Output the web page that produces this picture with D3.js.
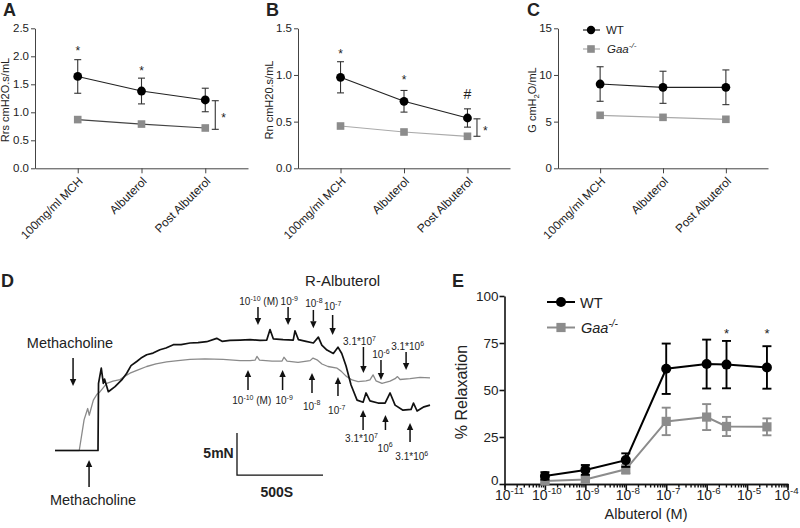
<!DOCTYPE html>
<html><head><meta charset="utf-8">
<script src="https://cdn.jsdelivr.net/npm/d3@7"></script>
<style>body{margin:0;background:#fff}svg{display:block}</style>
</head><body><svg id="chart" width="800" height="528"></svg>
<script>
// ---------------- DATA ----------------
const categories = ["100mg/ml MCH", "Albuterol", "Post Albuterol"];
const rrsWT = [1.64, 1.38, 1.22];
const rrsWTerr = [0.30, 0.23, 0.21];
const rrsGaa = [0.87, 0.79, 0.72];
const rrsTicks = [0, 0.5, 1.0, 1.5, 2.0, 2.5];

const rnWT = [0.975, 0.718, 0.539];
const rnWTerr = [0.167, 0.116, 0.098];
const rnGaa = [0.453, 0.389, 0.343];
const rnTicks = [0, 0.5, 1.0, 1.5];

const gWT = [9.03, 8.68, 8.68];
const gWTerr = [1.85, 1.72, 1.86];
const gGaa = [5.68, 5.46, 5.25];
const gTicks = [0, 5, 10, 15];

// Panel D traces (time in s, force in mN)
const wtTraceT = [0,250,253,269,281,288,310,349,388,417,442,475,500,533,570,610,645,688,733,785,831,882,940,971,1017,1076,1134,1192,1231,1250,1269,1326,1385,1395,1415,1459,1502,1531,1551,1581,1618,1645,1667,1692,1721,1756,1791,1808,1831,1878,1919,1948,1977,2023,2070,2084,2105,2145,2180];
const wtTraceF = [0,0,8.0,9.8,8.0,8.5,7.0,7.6,8.4,9.2,10.1,10.6,11.0,11.4,11.6,12.0,12.2,12.6,12.6,12.8,12.85,12.95,13.35,13.0,13.1,13.15,13.2,13.1,13.15,14.4,13.3,13.2,13.15,14.25,13.2,13.0,12.8,13.5,12.55,11.95,11.55,12.3,11.55,10.05,7.8,6.0,5.75,6.85,5.9,5.65,5.65,6.85,5.4,4.8,4.9,5.65,4.7,5.2,5.4];
const gaaTraceT = [0,141,169,190,199,223,244,262,301,337,378,407,436,483,533,587,649,715,785,872,977,1076,1134,1163,1174,1189,1262,1320,1331,1349,1413,1483,1500,1523,1552,1587,1640,1663,1692,1727,1762,1808,1831,1849,1866,1901,1948,1977,1991,2006,2064,2122,2180];
const gaaTraceF = [0,0,3.65,5.0,4.2,6.0,6.7,7.0,8.0,8.25,8.45,8.85,9.2,9.6,10.0,10.3,10.55,10.7,10.85,10.9,10.85,10.7,10.7,10.75,11.2,10.75,10.65,10.65,11.1,10.65,10.5,10.7,11.0,10.8,10.3,10.0,9.8,9.45,8.85,8.4,8.2,8.3,8.4,9.0,8.3,8.0,8.25,8.55,8.8,8.45,8.55,8.7,8.65];
const topDoseLabels = ["10^{-10} (M)", "10^{-9}", "10^{-8}", "10^{-7}", "3.1*10^{7}", "10^{-6}", "3.1*10^{6}"];
const bottomDoseLabels = ["10^{-10} (M)", "10^{-9}", "10^{-8}", "10^{-7}", "3.1*10^{7}", "10^{6}", "3.1*10^{6}"];

// Panel E
const doses = [1e-10, 1e-9, 1e-8, 1e-7, 1e-6, 3.1e-6, 3.1e-5];
const relaxWT = [4.3, 7.5, 12.7, 61.3, 63.8, 63.5, 62.0];
const relaxWTerr = [2.0, 2.6, 3.6, 13.4, 13.0, 12.6, 11.3];
const relaxGaa = [1.6, 2.4, 7.8, 33.3, 35.6, 30.6, 30.4];
const relaxGaaErr = [0.8, 1.6, 2.3, 7.3, 6.9, 5.1, 4.5];
const eYTicks = [0, 25, 50, 75, 100];
const eXTickLabels = ["10^{-11}","10^{-10}","10^{-9}","10^{-8}","10^{-7}","10^{-6}","10^{-5}","10^{-4}"];
const eXTickValues = [1e-11,1e-10,1e-9,1e-8,1e-7,1e-6,1e-5,1e-4];
const eStarDoses = [3.1e-6, 3.1e-5];

// ---------------- HELPERS ----------------
const FONT = "Arial, 'Liberation Sans', sans-serif";
const svg = d3.select("#chart");

function rich(sel, str, fs) {
  const parts = str.split(/(\^\{[^}]*\}|_\{[^}]*\})/).filter(s => s.length);
  let shift = 0;
  parts.forEach(p => {
    let type = 'n', s = p;
    if (p.startsWith('^{')) { type = 'sup'; s = p.slice(2, -1); }
    else if (p.startsWith('_{')) { type = 'sub'; s = p.slice(2, -1); }
    const target = type === 'sup' ? -0.42 * fs : type === 'sub' ? 0.3 * fs : 0;
    sel.append('tspan').attr('dy', target - shift).attr('font-size', type === 'n' ? fs : fs * 0.7).text(s);
    shift = target;
  });
  return sel;
}

function styleAxis(a, color, width, fs) {
  a.selectAll('path,line').attr('stroke', color).attr('stroke-width', width);
  a.selectAll('text').attr('font-size', fs).attr('font-family', FONT).attr('fill', '#222');
}

function panelLetter(x, y, t) {
  svg.append('text').attr('x', x).attr('y', y).attr('font-family', FONT)
    .attr('font-weight', 'bold').attr('font-size', 18).attr('fill', '#222').text(t);
}

// ---------------- PANELS A-C ----------------
function catPanel(o) {
  const x = d3.scalePoint().domain(categories).range([o.x0, o.x1]).padding(0.67);
  const y = d3.scaleLinear().domain([0, o.yMax]).range([168.3, 28.3]);
  const g = svg.append('g');
  const ya = g.append('g').attr('transform', `translate(${o.x0},0)`)
    .call(d3.axisLeft(y).tickValues(o.ticks).tickFormat(o.fmt).tickSize(4).tickSizeOuter(0).tickPadding(2));
  styleAxis(ya, '#444', 1, 11.5);
  const xa = g.append('g').attr('transform', 'translate(0,168.3)')
    .call(d3.axisBottom(x).tickSize(5).tickSizeOuter(0).tickFormat(''));
  styleAxis(xa, '#444', 1, 11.5);

  g.selectAll('.cl').data(categories).join('text')
    .attr('transform', d => `translate(${x(d) + 3},${179}) rotate(-45)`)
    .attr('text-anchor', 'end').attr('dy', '0.35em')
    .attr('font-family', FONT).attr('font-size', 11.8).attr('fill', '#222').text(d => d);

  const yt = g.append('text').attr('transform', `translate(${o.tx},100) rotate(-90)`)
    .attr('text-anchor', 'middle').attr('font-family', FONT).attr('fill', '#222');
  rich(yt, o.title, 11);

  const line = d3.line().x((d, i) => x(categories[i])).y(d => y(d));
  g.append('path').datum(o.gaa).attr('d', line).attr('fill', 'none').attr('stroke', o.gaaLine).attr('stroke-width', 1.2);
  g.append('path').datum(o.wt).attr('d', line).attr('fill', 'none').attr('stroke', '#222').attr('stroke-width', 1.2);

  const eb = g.selectAll('.eb').data(o.wt).join('g');
  eb.append('line').attr('x1', (d, i) => x(categories[i])).attr('x2', (d, i) => x(categories[i]))
    .attr('y1', (d, i) => y(d + o.err[i])).attr('y2', (d, i) => y(d - o.err[i]));
  eb.append('line').attr('x1', (d, i) => x(categories[i]) - 3.5).attr('x2', (d, i) => x(categories[i]) + 3.5)
    .attr('y1', (d, i) => y(d + o.err[i])).attr('y2', (d, i) => y(d + o.err[i]));
  eb.append('line').attr('x1', (d, i) => x(categories[i]) - 3.5).attr('x2', (d, i) => x(categories[i]) + 3.5)
    .attr('y1', (d, i) => y(d - o.err[i])).attr('y2', (d, i) => y(d - o.err[i]));
  eb.selectAll('line').attr('stroke', '#333').attr('stroke-width', 1.1);

  g.selectAll('.sq').data(o.gaa).join('rect')
    .attr('x', (d, i) => x(categories[i]) - 3.8).attr('y', d => y(d) - 3.8)
    .attr('width', 7.6).attr('height', 7.6).attr('fill', '#8c8c8c');
  g.selectAll('.ci').data(o.wt).join('circle')
    .attr('cx', (d, i) => x(categories[i])).attr('cy', d => y(d)).attr('r', 4.4).attr('fill', '#000');

  (o.marks || []).forEach(m => {
    g.append('text').attr('x', x(categories[m.i])).attr('y', y(m.v) + (m.t === '#' ? 5 : 7))
      .attr('text-anchor', 'middle').attr('font-family', FONT)
      .attr('font-size', m.t === '#' ? 14 : 12).attr('fill', '#222').text(m.t);
  });
  if (o.bracket) {
    const bx = x(categories[2]) + o.bracket.off;
    const b = g.append('g').attr('stroke', '#333').attr('stroke-width', 1.1);
    b.append('line').attr('x1', bx).attr('x2', bx).attr('y1', y(o.bracket.top)).attr('y2', y(o.bracket.bot));
    b.append('line').attr('x1', bx - 3.5).attr('x2', bx + 3.5).attr('y1', y(o.bracket.top)).attr('y2', y(o.bracket.top));
    b.append('line').attr('x1', bx - 3.5).attr('x2', bx + 3.5).attr('y1', y(o.bracket.bot)).attr('y2', y(o.bracket.bot));
    g.append('text').attr('x', bx + 6).attr('y', (y(o.bracket.top) + y(o.bracket.bot)) / 2 + 7)
      .attr('font-family', FONT).attr('font-size', 12).attr('fill', '#222').text('*');
  }
  if (o.legend) {
    const L = g.append('g');
    L.append('line').attr('x1', 583).attr('x2', 600).attr('y1', 30).attr('y2', 30).attr('stroke', '#222').attr('stroke-width', 1.2);
    L.append('circle').attr('cx', 591).attr('cy', 30).attr('r', 4.2).attr('fill', '#000');
    L.append('text').attr('x', 606).attr('y', 34).attr('font-family', FONT).attr('font-size', 11.5).attr('fill', '#222').text('WT');
    L.append('line').attr('x1', 583).attr('x2', 600).attr('y1', 49).attr('y2', 49).attr('stroke', '#aaa').attr('stroke-width', 1.2);
    L.append('rect').attr('x', 591 - 3.8).attr('y', 49 - 3.8).attr('width', 7.6).attr('height', 7.6).attr('fill', '#8c8c8c');
    const gt = L.append('text').attr('x', 607).attr('y', 53).attr('font-family', FONT)
      .attr('font-style', 'italic').attr('fill', '#222');
    rich(gt, 'Gaa^{-/-}', 11.5);
  }
}

catPanel({ x0: 35, x1: 248, yMax: 2.5, ticks: rrsTicks, fmt: d3.format('.1f'), tx: 9, title: 'Rrs cmH2O.s/mL',
  wt: rrsWT, err: rrsWTerr, gaa: rrsGaa, gaaLine: '#444',
  marks: [{ i: 0, v: 2.14, t: '*' }, { i: 1, v: 1.80, t: '*' }],
  bracket: { off: 10, top: 1.207, bot: 0.696 } });
catPanel({ x0: 298, x1: 510, yMax: 1.5, ticks: rnTicks, fmt: d3.format('.1f'), tx: 273, title: 'Rn cmH20.s/mL',
  wt: rnWT, err: rnWTerr, gaa: rnGaa, gaaLine: '#aaa',
  marks: [{ i: 0, v: 1.26, t: '*' }, { i: 1, v: 0.975, t: '*' }, { i: 2, v: 0.80, t: '#' }],
  bracket: { off: 9.5, top: 0.53, bot: 0.343 } });
catPanel({ x0: 558, x1: 768, yMax: 15, ticks: gTicks, fmt: d3.format('d'), tx: 536, title: 'G cmH_{2}O/mL',
  wt: gWT, err: gWTerr, gaa: gGaa, gaaLine: '#aaa', legend: true });

panelLetter(3, 16, 'A');
panelLetter(266, 16, 'B');
panelLetter(527, 16, 'C');
panelLetter(1, 287, 'D');
panelLetter(452, 287, 'E');

// ---------------- PANEL D ----------------
const xD = d3.scaleLinear().domain([0, 2180]).range([55, 430]);
const yD = d3.scaleLinear().domain([0, 5]).range([450.5, 408.5]);
const gD = svg.append('g');
const lineD = d3.line().x(d => xD(d[0])).y(d => yD(d[1]));
gD.append('path').datum(d3.zip(gaaTraceT, gaaTraceF)).attr('d', lineD)
  .attr('fill', 'none').attr('stroke', '#8a8a8a').attr('stroke-width', 1.3).attr('stroke-linejoin', 'round');
gD.append('path').datum(d3.zip(wtTraceT, wtTraceF)).attr('d', lineD)
  .attr('fill', 'none').attr('stroke', '#111').attr('stroke-width', 1.7).attr('stroke-linejoin', 'round');

function arrow(t, fTail, fHead) {
  const x = xD(t), y1 = yD(fTail), y2 = yD(fHead);
  const dir = y2 > y1 ? 1 : -1, hl = 7, hw = 3.2;
  gD.append('line').attr('x1', x).attr('x2', x).attr('y1', y1).attr('y2', y2 - dir * hl)
    .attr('stroke', '#111').attr('stroke-width', 1.5);
  gD.append('path').attr('d', `M${x - hw},${y2 - dir * hl}L${x + hw},${y2 - dir * hl}L${x},${y2}Z`).attr('fill', '#111');
}
function dlabel(t, f, str, fs, extra) {
  const el = gD.append('text').attr('x', xD(t)).attr('y', yD(f)).attr('text-anchor', extra || 'middle')
    .attr('font-family', FONT).attr('fill', '#222');
  rich(el, str, fs);
  return el;
}
// annotation layout: [arrow time, tail force, head force, label time, label force]
const topAnn = [[1180,17.08,14.94,1185,17.32],[1355,17.08,14.94,1362,17.32],[1502,16.73,14.55,1505,17.08],
  [1614,16.13,13.75,1614,16.73],[1793,12.32,9.23,1770,12.56],[1895,10.77,8.39,1895,10.98],[2041,11.73,9.58,2050,11.96]];
const botAnn = [[1122,7.2,9.58,1144,5.54],[1323,7.2,9.58,1332,5.54],[1494,6.85,9.23,1492,4.88],
  [1645,6.49,8.75,1638,4.35],[1791,2.44,4.82,1782,0.98],[1921,2.44,4.23,1919,-0.14],[2064,1.01,3.27,2074,-1.13]];
topAnn.forEach((a, i) => { arrow(a[0], a[1], a[2]); dlabel(a[3], a[4], topDoseLabels[i], 10); });
botAnn.forEach((a, i) => { arrow(a[0], a[1], a[2]); dlabel(a[3], a[4], bottomDoseLabels[i], 10); });

arrow(105, 11.01, 7.68);
dlabel(87, 12.2, 'Methacholine', 14.5);
arrow(198, -4.35, -1.13);
dlabel(221, -6.49, 'Methacholine', 14.5);
dlabel(1672, 19.58, 'R-Albuterol', 15);

// scale bar: 5 mN x 500 s
const sbT = 1058, sbF = -2.92;
gD.append('path').attr('d', `M${xD(sbT)},${yD(sbF + 5)}V${yD(sbF)}H${xD(sbT + 500)}`)
  .attr('fill', 'none').attr('stroke', '#111').attr('stroke-width', 1.3);
dlabel(1039, -0.89, '5mN', 14, 'end').attr('font-weight', 'bold');
dlabel(1289, -5.5, '500S', 14).attr('font-weight', 'bold');

// ---------------- PANEL E ----------------
const xE = d3.scaleLog().domain([1e-11, 1e-4]).range([504.5, 787.5]);
const yE = d3.scaleLinear().domain([0, 100]).range([484, 296]);
const gE = svg.append('g');
const minorTicks = [];
for (let e = -11; e < -4; e++) for (let k = 2; k <= 9; k++) minorTicks.push(k * Math.pow(10, e));
const xaMin = gE.append('g').attr('transform', 'translate(0,484)')
  .call(d3.axisBottom(xE).tickValues(minorTicks).tickSize(3.5).tickFormat(''));
styleAxis(xaMin, '#111', 1.4, 13);
const xaMaj = gE.append('g').attr('transform', 'translate(0,484)')
  .call(d3.axisBottom(xE).tickValues(eXTickValues).tickSize(6).tickSizeOuter(0).tickFormat(''));
styleAxis(xaMaj, '#111', 1.6, 13);
eXTickValues.forEach((v, i) => {
  const t = gE.append('text').attr('x', xE(v) + (i === 0 ? 5 : i === eXTickValues.length - 1 ? -1 : 2))
    .attr('y', 500).attr('text-anchor', 'middle').attr('font-family', FONT).attr('fill', '#222');
  rich(t, eXTickLabels[i], 14);
});
const yaE = gE.append('g').attr('transform', 'translate(504.5,0)')
  .call(d3.axisLeft(yE).tickValues(eYTicks).tickSize(5).tickSizeOuter(0).tickPadding(1));
styleAxis(yaE, '#111', 1.6, 13.5);
yaE.selectAll('.tick text').filter(d => d === 0).attr('dy', '0.05em');
gE.append('text').attr('x', 646).attr('y', 519).attr('text-anchor', 'middle').attr('font-family', FONT)
  .attr('font-size', 14.5).attr('fill', '#222').text('Albuterol (M)');
gE.append('text').attr('transform', 'translate(467,392) rotate(-90)').attr('text-anchor', 'middle')
  .attr('font-family', FONT).attr('font-size', 16).attr('fill', '#222').text('% Relaxation');

function eSeries(vals, errs, color, shape) {
  const line = d3.line().x((d, i) => xE(doses[i])).y(d => yE(d));
  gE.append('path').datum(vals).attr('d', line).attr('fill', 'none').attr('stroke', color).attr('stroke-width', 2);
  const eg = gE.append('g').attr('stroke', color).attr('stroke-width', 1.9);
  vals.forEach((v, i) => {
    const cx = xE(doses[i]), t = yE(v + errs[i]), b = yE(v - errs[i]);
    eg.append('line').attr('x1', cx).attr('x2', cx).attr('y1', t).attr('y2', b);
    eg.append('line').attr('x1', cx - 4.5).attr('x2', cx + 4.5).attr('y1', t).attr('y2', t);
    eg.append('line').attr('x1', cx - 4.5).attr('x2', cx + 4.5).attr('y1', b).attr('y2', b);
  });
  if (shape === 'circle') {
    gE.selectAll(null).data(vals).join('circle').attr('cx', (d, i) => xE(doses[i])).attr('cy', d => yE(d))
      .attr('r', 5).attr('fill', color);
  } else {
    gE.selectAll(null).data(vals).join('rect').attr('x', (d, i) => xE(doses[i]) - 4.6).attr('y', d => yE(d) - 4.6)
      .attr('width', 9.2).attr('height', 9.2).attr('fill', color);
  }
}
eSeries(relaxGaa, relaxGaaErr, '#8c8c8c', 'square');
eSeries(relaxWT, relaxWTerr, '#000', 'circle');
eStarDoses.forEach(d => {
  gE.append('text').attr('x', xE(d)).attr('y', yE(81.4) + 7).attr('text-anchor', 'middle')
    .attr('font-family', FONT).attr('font-size', 13).attr('fill', '#222').text('*');
});
// legend E
gE.append('line').attr('x1', 547).attr('x2', 575).attr('y1', 302).attr('y2', 302).attr('stroke', '#000').attr('stroke-width', 2);
gE.append('circle').attr('cx', 561).attr('cy', 302).attr('r', 5).attr('fill', '#000');
gE.append('text').attr('x', 580).attr('y', 307.5).attr('font-family', FONT).attr('font-size', 14.5).attr('fill', '#222').text('WT');
gE.append('line').attr('x1', 547).attr('x2', 575).attr('y1', 327.5).attr('y2', 327.5).attr('stroke', '#8c8c8c').attr('stroke-width', 2);
gE.append('rect').attr('x', 561 - 4.6).attr('y', 327.5 - 4.6).attr('width', 9.2).attr('height', 9.2).attr('fill', '#8c8c8c');
const gl = gE.append('text').attr('x', 581).attr('y', 333).attr('font-family', FONT)
  .attr('font-style', 'italic').attr('fill', '#222');
rich(gl, 'Gaa^{-/-}', 14.5);
</script></body></html>
